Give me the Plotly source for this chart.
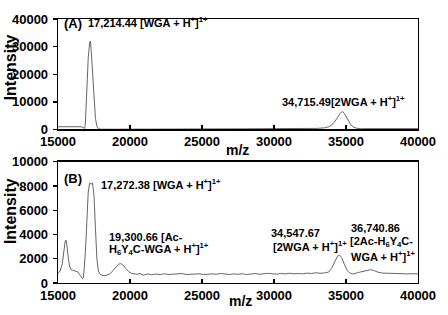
import plotly.graph_objects as go

# ---- Data ----
# Panel (A)
mz_a = [15000, 15300, 15600, 16000, 16300, 16600, 16750, 16850, 16900, 17000, 17100,
        17200, 17250, 17300, 17400, 17500, 17600, 17700, 17800, 17900, 18000, 19000,
        20000, 22000, 25000, 28000, 30000, 32000, 33000, 33500, 33800, 34000, 34200,
        34400, 34600, 34750, 34900, 35100, 35300, 35500, 35700, 36000, 37000, 38000, 40000]
int_a = [1000, 1050, 1100, 1000, 1050, 1000, 700, 400, 2000, 14000, 26000,
         31500, 32000, 29000, 20000, 10000, 4000, 1200, 300, 150, 100, 100,
         150, 200, 200, 250, 250, 300, 400, 600, 1000, 1600, 2700,
         4300, 5900, 6500, 5800, 3800, 2000, 900, 500, 300, 300, 300, 300]

# Panel (B)
mz_b = [15000, 15150, 15300, 15400, 15500, 15550, 15600, 15700, 15800, 15900, 16000,
        16100, 16200, 16300, 16400, 16500, 16600, 16700, 16750, 16800, 16900, 17000,
        17100, 17200, 17300, 17400, 17500, 17600, 17700, 17800, 17900, 18000, 18200,
        18400, 18600, 18800, 19000, 19200, 19350, 19500, 19700, 19900, 20100, 20300,
        20500, 20700, 20900, 21100, 21300, 21500, 21800, 22100, 22400, 22700, 23000,
        23300, 23600, 23900, 24200, 24500, 24800, 25100, 25400, 25700, 26000, 26300,
        26600, 26900, 27200, 27500, 27800, 28100, 28400, 28700, 29000, 29300, 29600,
        29900, 30200, 30500, 30800, 31100, 31400, 31700, 32000, 32300, 32600, 32900,
        33200, 33500, 33800, 34000, 34200, 34400, 34550, 34700, 34900, 35100, 35300,
        35500, 35800, 36100, 36400, 36700, 36900, 37200, 37500, 37800, 38100, 38400,
        38700, 39000, 39300, 39600, 40000]
int_b = [800, 1000, 1600, 2700, 3450, 3550, 3300, 2200, 1400, 1100, 1050,
         1000, 950, 950, 900, 700, 500, 350, 400, 900, 2500, 5000,
         7500, 8250, 8150, 8250, 7200, 4500, 2000, 1000, 750, 650, 600,
         650, 750, 1000, 1300, 1550, 1600, 1500, 1200, 950, 800, 750,
         720, 780, 650, 700, 750, 680, 740, 700, 760, 700, 730,
         720, 780, 700, 740, 720, 760, 700, 730, 750, 720, 780,
         740, 700, 750, 720, 760, 700, 740, 780, 720, 750, 800,
         760, 730, 780, 750, 800, 760, 790, 760, 820, 780, 850,
         800, 830, 900, 1200, 1700, 2200, 2300, 2100, 1500, 1000, 800,
         750, 850, 950, 1050, 1100, 1050, 900, 820, 800, 780, 800,
         760, 780, 750, 770, 750]

# Tick values
x_ticks = [15000, 20000, 25000, 30000, 35000, 40000]
y_ticks_a = [0, 10000, 20000, 30000, 40000]
y_ticks_b = [0, 2000, 4000, 6000, 8000, 10000]

# ---- Layout helpers (pixel geometry of the plotting area) ----
W, H = 448, 315
L, R, T, B = 57, 428, 16, 286
PW, PH = R - L, B - T


def px(x):
    return (x - L) / PW


def py(y):
    return (B - y) / PH


top_dom = [py(129), 1.0]
bot_dom = [0.0, py(162)]

line_col = "#666666"
FONT = "Liberation Sans, Arial, sans-serif"

fig = go.Figure()
fig.add_trace(go.Scatter(x=mz_a, y=int_a, mode="lines",
                         line=dict(color=line_col, width=1), xaxis="x", yaxis="y",
                         showlegend=False, hoverinfo="skip"))
fig.add_trace(go.Scatter(x=mz_b, y=int_b, mode="lines",
                         line=dict(color=line_col, width=1), xaxis="x2", yaxis="y2",
                         showlegend=False, hoverinfo="skip"))

tick_font = dict(family=FONT, size=13, color="black", weight="bold")
xcommon = dict(range=[15000, 40000], tickvals=x_ticks, ticktext=[str(v) for v in x_ticks],
               ticks="inside", ticklen=4, tickwidth=1.3, tickcolor="black",
               showline=True, linecolor="black", linewidth=1.3, mirror=True,
               showgrid=False, zeroline=False, tickfont=tick_font)
ycommon = dict(ticks="outside", ticklen=4, tickwidth=1.3, tickcolor="black",
               showline=True, linecolor="black", linewidth=1.3, mirror=True,
               showgrid=False, zeroline=False, tickfont=tick_font, ticklabelstandoff=2)

fig.update_layout(
    width=W, height=H,
    margin=dict(l=L, r=W - R, t=T, b=H - B, pad=0),
    paper_bgcolor="white", plot_bgcolor="white",
    font=dict(family=FONT, color="black"),
    xaxis=dict(domain=[0, 1], anchor="y", **xcommon),
    yaxis=dict(domain=top_dom, anchor="x", range=[0, 40000],
               tickvals=y_ticks_a, ticktext=[str(v) for v in y_ticks_a], **ycommon),
    xaxis2=dict(domain=[0, 1], anchor="y2", **xcommon),
    yaxis2=dict(domain=bot_dom, anchor="x2", range=[0, 10000],
                tickvals=y_ticks_b, ticktext=[str(v) for v in y_ticks_b], **ycommon),
)

ann_font = dict(family=FONT, size=11, color="black", weight="bold")
big_font = dict(family=FONT, size=13, color="black", weight="bold")
lab_font = dict(family=FONT, size=16, color="black", weight="bold")
mz_font = dict(family=FONT, size=14, color="black", weight="bold")


def ann(text, x, y, font=ann_font, xanchor="left", angle=0):
    fig.add_annotation(text=text, x=px(x), y=py(y), xref="paper", yref="paper",
                       xanchor=xanchor, yanchor="middle", showarrow=False,
                       font=font, textangle=angle)


# panel labels
ann("(A)", 61, 21, big_font)
ann("(B)", 61, 179, big_font)

# peak labels
ann("17,214.44 [WGA + H<sup>+</sup>]<sup>1+</sup>", 86, 19)
ann("34,715.49[2WGA + H<sup>+</sup>]<sup>1+</sup>", 286, 100)
ann("17,272.38 [WGA + H<sup>+</sup>]<sup>1+</sup>", 99, 185)
ann("19,300.66 [Ac-", 108, 239)
ann("H<sub>6</sub>Y<sub>4</sub>C-WGA + H<sup>+</sup>]<sup>1+</sup>", 108, 251)
ann("34,547.67", 274, 235)
ann("[2WGA + H<sup>+</sup>]<sup>1+</sup>", 277, 248)
ann("36,740.86", 357, 230)
ann("[2Ac-H<sub>6</sub>Y<sub>4</sub>C-", 356, 244)
ann("WGA + H<sup>+</sup>]<sup>1+</sup>", 357, 258)

# axis titles
ann("Intensity", 8, 65, lab_font, xanchor="center", angle=-90)
ann("Intensity", 8, 212, lab_font, xanchor="center", angle=-90)
ann("m/z", 242, 150, mz_font, xanchor="center")
ann("m/z", 245, 304, mz_font, xanchor="center")

fig.write_html("out.html", config={"displayModeBar": False, "staticPlot": True},
               post_script="document.body.style.margin='0';document.body.style.padding='0';")
